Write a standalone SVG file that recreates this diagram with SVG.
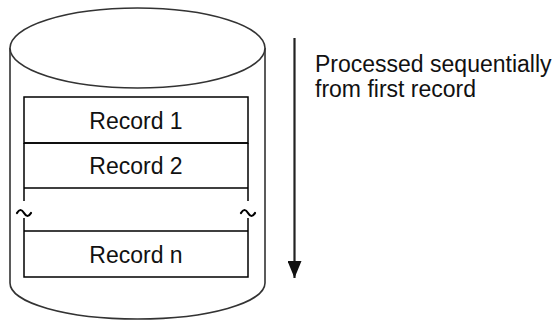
<svg xmlns="http://www.w3.org/2000/svg" width="558" height="322" viewBox="0 0 558 322">
<style>
.cyl{fill:#fff;stroke:#333;stroke-width:1.6}
.rec{fill:#fff;stroke:#000;stroke-width:1.5}
.ln{fill:none;stroke:#000;stroke-width:1.5}
.brk{fill:none;stroke:#000;stroke-width:2.2;stroke-linecap:round}
.t{font-family:"Liberation Sans",Arial,sans-serif;font-size:23px;fill:#111}
.arr{stroke:#222;stroke-width:2.2;fill:none}
</style>
<defs>
<marker id="ah" viewBox="0 0 17 14" refX="17" refY="7" markerWidth="17" markerHeight="14" markerUnits="userSpaceOnUse" orient="auto">
<path d="M0,0 L17,7 L0,14 Z" fill="#111"/>
</marker>
</defs>
<g id="cylinder">
<path class="cyl" d="M10,48 L10,283 A127.5,36 0 0 0 265,283 L265,48"/>
<ellipse class="cyl" cx="137.5" cy="48" rx="127.5" ry="40"/>
</g>
<g id="record1">
<rect class="rec" x="24" y="97" width="224" height="46"/>
<text class="t" x="136" y="129" text-anchor="middle">Record 1</text>
</g>
<g id="record2">
<path class="ln" d="M24,143 L248,143 M24,188 L248,188 M24,143 L24,201 M248,143 L248,201"/>
<text class="t" x="136" y="174" text-anchor="middle">Record 2</text>
</g>
<g id="break">
<path class="brk" d="M17,213 q3.5,-6 7,0 t7,0"/>
<path class="brk" d="M241,213 q3.5,-6 7,0 t7,0"/>
</g>
<g id="recordn">
<path class="ln" d="M24,218 L24,277 L248,277 L248,218 M24,231 L248,231"/>
<text class="t" x="136" y="263" text-anchor="middle">Record n</text>
</g>
<g id="connectors">
<line class="arr" x1="294.5" y1="38" x2="294.5" y2="278" marker-end="url(#ah)"/>
</g>
<g id="label">
<text class="t" x="315" y="72">Processed sequentially</text>
<text class="t" x="315" y="97">from first record</text>
</g>
</svg>
